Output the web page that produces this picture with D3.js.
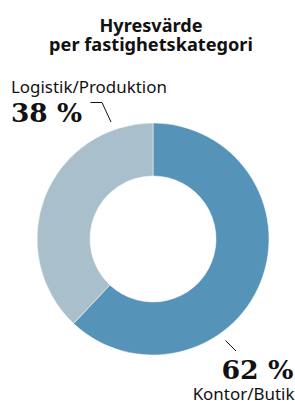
<!DOCTYPE html>
<html><head><meta charset="utf-8">
<script src="https://cdn.jsdelivr.net/npm/d3@7"></script>
<style>
html,body{margin:0;padding:0;background:#fff;}
svg{display:block;}
text{font-variant-ligatures:none;}
</style></head>
<body><div id="chart"></div>
<script>
const title = ["Hyresvärde", "per fastighetskategori"];
const categories = ["Kontor/Butik", "Logistik/Produktion"];
const values = [62, 38];
const colors = ["#5693b8", "#a9bfcc"];

const W = 295, H = 401;
const cx = 153, cy = 239, rOuter = 116, rInner = 63;

const svg = d3.select("#chart").append("svg").attr("width", W).attr("height", H);

function fit(sel, target) {
  const n = sel.node();
  const fs = parseFloat(sel.attr("font-size"));
  const w = n.getComputedTextLength();
  sel.attr("font-size", (fs * target / w).toFixed(2));
  return sel;
}

const SANS = "Noto Sans";
const tw = [103, 204];
svg.append("g").selectAll("text").data(title).join("text")
  .attr("x", 151).attr("y", (d, i) => 31.5 + i * 19.5)
  .attr("text-anchor", "middle")
  .attr("font-family", SANS).attr("font-weight", 700)
  .attr("font-size", 17).attr("fill", "#111")
  .text(d => d)
  .each(function(d, i) { fit(d3.select(this), tw[i]); });

const pie = d3.pie().sort(null).value(d => d);
const arc = d3.arc().innerRadius(rInner).outerRadius(rOuter);
const g = svg.append("g").attr("transform", `translate(${cx},${cy})`);
g.selectAll("path").data(pie(values)).join("path")
  .attr("d", arc).attr("fill", (d, i) => colors[i])
  .attr("stroke", "#fff").attr("stroke-width", 0.5);

svg.append("line").attr("x1", 225.5).attr("y1", 340.5).attr("x2", 236).attr("y2", 351)
  .attr("stroke", "#111").attr("stroke-width", 1);
svg.append("path").attr("d", "M90.5,102.5 L102,102.5 L111,122")
  .attr("fill", "none").attr("stroke", "#111").attr("stroke-width", 1);

const fmt = v => v + " %";
fit(svg.append("text").attr("x", 11).attr("y", 92.7)
  .attr("font-family", SANS).attr("font-size", 16).attr("fill", "#111")
  .text(categories[1]), 156);
fit(svg.append("text").attr("x", 11).attr("y", 121.5)
  .attr("font-family", "DejaVu Serif").attr("font-weight", "bold").attr("font-size", 25).attr("fill", "#111")
  .text(fmt(values[1])), 71);
fit(svg.append("text").attr("x", 293.5).attr("y", 379).attr("text-anchor", "end")
  .attr("font-family", "DejaVu Serif").attr("font-weight", "bold").attr("font-size", 25).attr("fill", "#111")
  .text(fmt(values[0])), 72);
fit(svg.append("text").attr("x", 294.5).attr("y", 399.5).attr("text-anchor", "end")
  .attr("font-family", SANS).attr("font-size", 16).attr("fill", "#111")
  .text(categories[0]), 102);
</script></body></html>
